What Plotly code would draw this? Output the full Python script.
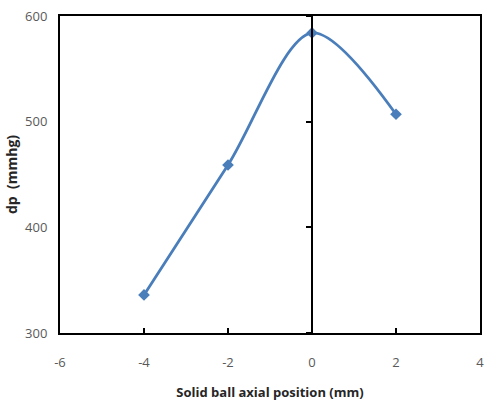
import plotly.graph_objects as go

x_pos = [-4, -2, 0, 2]
dp = [336, 459, 584, 507]
x_ticks = [-6, -4, -2, 0, 2, 4]
x_tick_text = ["-6", "-4", "-2", "0", "2", "4"]
y_ticks = [300, 400, 500, 600]

color = "#4a7ebb"
fig = go.Figure()
fig.add_trace(go.Scatter(
    x=x_pos, y=dp, mode="lines+markers",
    line=dict(color=color, width=2.8, shape="spline", smoothing=0.9),
    marker=dict(symbol="diamond", size=9, color=color),
    showlegend=False,
))
fig.add_trace(go.Scatter(x=[None], y=[None], yaxis="y2", showlegend=False))

pos0 = (0 - (-6)) / 10

fig.update_layout(
    width=487, height=401,
    margin=dict(l=60, r=3, t=16, b=68),
    paper_bgcolor="white", plot_bgcolor="white",
    font=dict(family="Open Sans, Liberation Sans, sans-serif"),
    xaxis=dict(
        domain=[0, 1], range=[-6, 4], tickvals=x_ticks, ticktext=x_tick_text,
        ticks="inside", ticklen=5, tickwidth=1.5, tickcolor="black",
        showline=True, linecolor="black", linewidth=2, mirror=True,
        showgrid=False, zeroline=False,
        tickfont=dict(size=13, color="#595959"),
        ticklabelstandoff=16,
        title=dict(text="<b>Solid ball axial position (mm)</b>", font=dict(size=13, color="#262626"), standoff=18),
    ),
    yaxis=dict(
        range=[300, 600], tickvals=y_ticks,
        ticks="", showline=True, linecolor="black", linewidth=2, mirror=True,
        showgrid=False, zeroline=False,
        tickfont=dict(size=13, color="#595959"),
        ticklabelstandoff=8,
        title=dict(text="<b>dp  (mmhg)</b>", font=dict(size=14, color="#262626"), standoff=4),
    ),
    yaxis2=dict(
        overlaying="y", anchor="free", position=pos0, side="left",
        range=[300, 600], tickvals=y_ticks,
        ticks="outside", ticklen=5, tickwidth=1.5, tickcolor="black",
        showticklabels=False, showline=True, linecolor="black", linewidth=2,
        showgrid=False, zeroline=False,
    ),
)
fig.write_html("out.html")
